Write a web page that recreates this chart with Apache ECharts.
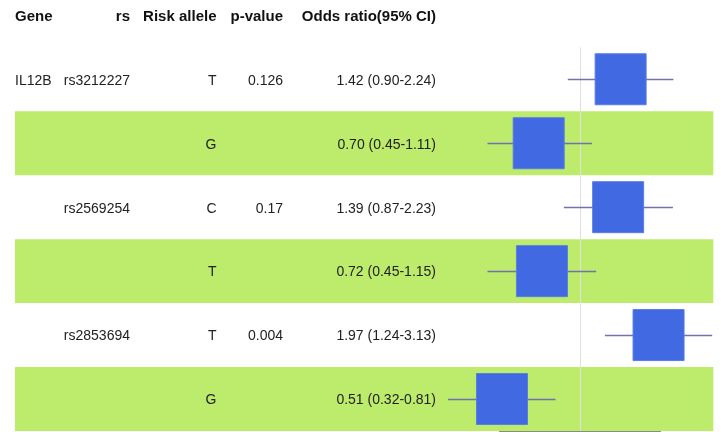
<!DOCTYPE html>
<html>
<head>
<meta charset="utf-8">
<title>IL12B forest plot</title>
<script src="https://cdn.jsdelivr.net/npm/echarts@6/dist/echarts.min.js"></script>
<style>
  html, body { margin: 0; padding: 0; background: #ffffff; }
  #chart { width: 721px; height: 432px; }
</style>
</head>
<body>
<div id="chart"></div>
<script>
// Table columns
const columnHeaders = ['Gene', 'rs', 'Risk allele', 'p-value', 'Odds ratio(95% CI)'];
const genes = ['IL12B', '', '', '', '', ''];
const rsIds = ['rs3212227', '', 'rs2569254', '', 'rs2853694', ''];
const riskAlleles = ['T', 'G', 'C', 'T', 'T', 'G'];
const pValues = ['0.126', '', '0.17', '', '0.004', ''];

// Odds ratios with 95% confidence limits
const oddsRatios = [1.42, 0.70, 1.39, 0.72, 1.97, 0.51];
const ciLower = [0.90, 0.45, 0.87, 0.45, 1.24, 0.32];
const ciUpper = [2.24, 1.11, 2.23, 1.15, 3.13, 0.81];

// Range covered by the x axis line (log scale)
const axisRange = [0.5, 2];
const referenceOR = 1;

const fmt = v => v.toFixed(2);
const orLabels = oddsRatios.map((v, i) => `${fmt(v)} (${fmt(ciLower[i])}-${fmt(ciUpper[i])})`);
const rowIndex = oddsRatios.map((_, i) => i);

// Layout of the table part (pixels)
const FONT = '"Liberation Sans", Arial, Helvetica, sans-serif';
const layout = {
  bandLeft: 15,
  bandRight: 713.3,
  textDy: 1.5,
  headerY: 17,
  boxSize: 51,
  columns: [
    { x: 15, align: 'left' },
    { x: 130, align: 'right' },
    { x: 216.5, align: 'right' },
    { x: 283, align: 'right' },
    { x: 436, align: 'right' }
  ]
};
const BAND_COLOR = '#BDEB6B';
const TEXT_COLOR = '#222222';

const chart = echarts.init(document.getElementById('chart'), null, { renderer: 'canvas' });

function rowHeight(api) {
  return Math.abs(api.coord([referenceOR, 1])[1] - api.coord([referenceOR, 0])[1]);
}

// Zebra bands, reference line at OR = 1 and the table cells of each row
function renderRow(params, api) {
  const i = api.value(1);
  const [xRef, yc] = api.coord([referenceOR, i]);
  const h = rowHeight(api);
  const children = [];
  if (i % 2 === 1) {
    children.push({
      type: 'rect',
      shape: { x: layout.bandLeft, y: yc - h / 2, width: layout.bandRight - layout.bandLeft, height: h },
      style: { fill: BAND_COLOR }
    });
  }
  children.push({
    type: 'line',
    shape: { x1: Math.round(xRef) + 0.5, y1: yc - h / 2, x2: Math.round(xRef) + 0.5, y2: yc + h / 2 },
    style: { stroke: '#e0e0e0', lineWidth: 1 }
  });
  const cells = [genes[i], rsIds[i], riskAlleles[i], pValues[i], orLabels[i]];
  cells.forEach((txt, c) => {
    if (!txt) return;
    children.push({
      type: 'text',
      style: {
        text: txt,
        x: layout.columns[c].x,
        y: yc + layout.textDy,
        textAlign: layout.columns[c].align,
        textVerticalAlign: 'middle',
        font: '14px ' + FONT,
        fill: TEXT_COLOR
      }
    });
  });
  return { type: 'group', children };
}

// Confidence interval whisker and point-estimate box
function renderEstimate(params, api) {
  const i = api.value(1);
  const c = api.coord([api.value(0), i]);
  const lo = api.coord([api.value(2), i]);
  const hi = api.coord([api.value(3), i]);
  const s = layout.boxSize;
  return {
    type: 'group',
    children: [
      {
        type: 'line',
        shape: { x1: lo[0], y1: Math.round(c[1]) + 0.5, x2: hi[0], y2: Math.round(c[1]) + 0.5 },
        style: { stroke: '#7272ae', lineWidth: 1.3 }
      },
      {
        type: 'rect',
        shape: { x: c[0] - s / 2, y: c[1] - s / 2, width: s, height: s },
        style: { fill: '#4169E1', stroke: '#5a7de6', lineWidth: 1 }
      }
    ]
  };
}

const option = {
  animation: false,
  backgroundColor: '#ffffff',
  grid: { left: 499.7, right: 60.7, top: 47.3, bottom: 1, containLabel: false },
  xAxis: {
    type: 'log',
    logBase: 2,
    min: axisRange[0],
    max: axisRange[1],
    axisLine: { show: true, lineStyle: { color: '#8a8a8a', width: 2 } },
    axisTick: { show: false },
    axisLabel: { show: false },
    splitLine: { show: false }
  },
  yAxis: {
    type: 'category',
    inverse: true,
    data: rowIndex.map(String),
    show: false
  },
  graphic: columnHeaders.map((h, c) => ({
    type: 'text',
    silent: true,
    x: layout.columns[c].x,
    y: layout.headerY,
    style: {
      text: h,
      textAlign: layout.columns[c].align,
      textVerticalAlign: 'middle',
      font: 'bold 15px ' + FONT,
      fill: '#111111'
    }
  })),
  series: [
    {
      type: 'custom',
      z: 1,
      silent: true,
      renderItem: renderRow,
      encode: { x: 0, y: 1 },
      data: rowIndex.map(i => [referenceOR, i])
    },
    {
      type: 'custom',
      z: 3,
      silent: true,
      clip: false,
      renderItem: renderEstimate,
      encode: { x: [0, 2, 3], y: 1 },
      data: rowIndex.map(i => [oddsRatios[i], i, ciLower[i], ciUpper[i]])
    }
  ]
};

chart.setOption(option);
</script>
</body>
</html>
